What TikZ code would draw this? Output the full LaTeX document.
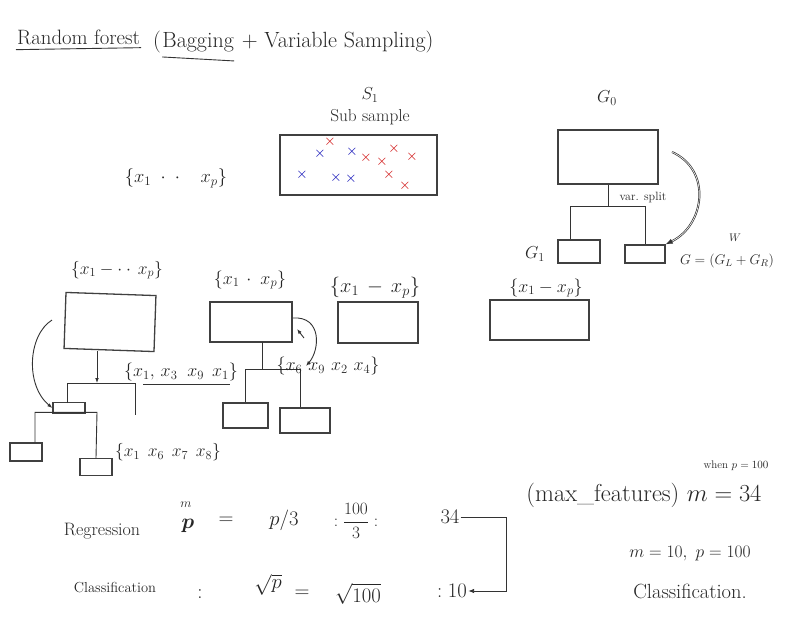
\RequirePackage{fix-cm}
\documentclass[tikz,border=0pt]{standalone}
\usepackage{amsmath}
\usepackage{fontspec}
\usetikzlibrary{arrows.meta}
\begin{document}
\begin{tikzpicture}[x=1pt,y=-1pt,
  hw/.style={font=\fontsize{#1}{#1}\selectfont, inner sep=1pt, text=black!85},
  hw/.default=17.3,
  sm/.style={font=\fontsize{#1}{#1}\selectfont, inner sep=1pt, text=black!85},
  sm/.default=11,
  box/.style={draw=black!75, line width=1.3pt, inner sep=0pt},
  wire/.style={draw=black!80, line width=0.9pt},
  bx/.style={font=\fontsize{15}{15}\selectfont\bfseries, text=blue!70!black, inner sep=0pt},
  rx/.style={font=\fontsize{15}{15}\selectfont\bfseries, text=red!80!black, inner sep=0pt}]
\useasboundingbox (0,0) rectangle (785,642);

% title
\node[hw=20.8, anchor=west] (t1) at (16,37) {Random forest};
\node[hw=22, anchor=west] (t2) at (152,42) {(};
\node[hw=22, anchor=west, inner sep=0pt] (t3) at (t2.east) {Bagging};
\node[hw=22, anchor=west] (t4) at (t3.east) {\ + Variable Sampling)};
\draw[wire] ([yshift=-4pt]t1.south west) -- ([yshift=-2pt]t1.south east);
\draw[wire] ([yshift=-5pt]t3.south west) -- ([yshift=-9pt]t3.south east);

% S1 sub sample
\node[hw] (s1lab) at (370,95) {$S_1$};
\node[hw] (sub) at (370,117) {Sub sample};
\node[box, minimum width=157, minimum height=60] (S1) at (358.5,165) {};
\node[rx] (c1) at (330,142) {$\times$};
\node[bx] (c2) at (320,154) {$\times$};
\node[bx] (c3) at (352,152) {$\times$};
\node[rx] (c4) at (366,158) {$\times$};
\node[rx] (c5) at (394,149) {$\times$};
\node[rx] (c6) at (412,157) {$\times$};
\node[rx] (c7) at (382,162) {$\times$};
\node[bx] (c8) at (302,175) {$\times$};
\node[bx] (c9) at (336,178) {$\times$};
\node[bx] (c10) at (351,179) {$\times$};
\node[rx] (c11) at (389,175) {$\times$};
\node[rx] (c12) at (405,186) {$\times$};

\node[hw=18.5] (xs0) at (176,178) {$\{x_1\;\cdot\;\cdot\;\;\;\; x_p\}$};

% G0 tree
\node[hw] (g0lab) at (607,98) {$G_0$};
\node[box, minimum width=100, minimum height=54] (G0) at (608,157) {};
\node[box, minimum width=42, minimum height=23] (GL) at (579,251.5) {};
\node[box, minimum width=40, minimum height=18] (GR) at (645,254) {};
\coordinate (gj) at (608,207);
\draw[wire] (G0.south) -- (gj);
\draw[wire] ([xshift=-9pt]GL.north) -- ++(0,-33) -| (GR.north);
\node[sm=12] (vs) at (643,197) {var. split};
\draw[draw=black!80, double, line width=0.7pt, -{Latex[length=7pt]}]
  (672,152) .. controls (712,170) and (705,225) .. (GR.north east);
\node[hw] (g1) at (535,254) {$G_1$};
\node[hw=14] (gf) at (727,261) {$G=(G_L+G_R)$};
\node[sm] (gw) at (735,238) {$W$};

% left tree
\node[hw=17.5] (xa) at (117,270) {$\{x_1 - \cdot\cdot\, x_p\}$};
\node[box, minimum width=90, minimum height=56, rotate=-2] (B1) at (110,322) {};
\coordinate (j1) at (97,383);
\draw[wire, -{Latex[length=5pt]}] (97,351) -- (j1);
\node[box, minimum width=32, minimum height=11] (L1) at (69,408) {};
\draw[wire] (67,403) -- (67,383) -- (135,383) -- (135,415);
\draw[wire, -{Latex[length=5pt]}] (52,320) .. controls (28,335) and (25,385) .. (L1.west);
\node[box, minimum width=32, minimum height=18] (L2) at (26,452) {};
\node[box, minimum width=32, minimum height=17] (L3) at (96,467) {};
\draw[wire] (L2.north) ++(9,0) -- ++(0,-30) -- ++(62,0) -- (L3.north);
\node[hw=17.5] (xf) at (168,452) {$\{x_1\;\, x_6\;\, x_7\;\, x_8\}$};
\node[hw=18] (xb) at (181,372) {$\{x_1,\, x_3\;\; x_9\;\, x_1\}$};
\coordinate (lb1) at (143,384);
\coordinate (lb2) at (230,384);
\draw[wire] (lb1) -- (lb2);

% middle tree
\node[hw=18] (xc) at (250,280) {$\{x_1\, \cdot\; x_p\}$};
\node[box, minimum width=82, minimum height=40] (B2) at (251,322) {};
\node[box, minimum width=45, minimum height=25] (M1) at (245.5,415.5) {};
\node[box, minimum width=50, minimum height=25] (M2) at (305,420.5) {};
\draw[wire] (262,342) -- (262,370);
\draw[wire] (M1.north) -- ++(0,-33) -| ([xshift=-5pt]M2.north);
\draw[wire, -{Latex[length=5pt]}] (293,318) .. controls (322,316) and (320,350) .. (306,366);
\draw[wire, -{Latex[length=5pt]}] (304,338) -- (297,329);
\node[hw=18] (xg) at (328,366) {$\{x_6\,\, x_9\,\, x_2\,\, x_4\}$};

% boxes 3 and 4
\node[hw=20.5] (xd) at (375,288) {$\{x_1\, -\, x_p\}$};
\node[box, minimum width=80, minimum height=41] (B3) at (378,322.5) {};
\node[hw=18] (xe) at (546,288) {$\{x_1 - x_p\}$};
\node[box, minimum width=99, minimum height=40] (B4) at (539.5,320) {};

% formulas
\node[hw=18] (reg) at (102,531) {Regression};
\node[sm=13] (mm) at (186,505) {$m$};
\node[hw=21] (pp) at (188,526) {$\boldsymbol{p}$};
\node[hw=20.7] (eq1) at (226,521) {$=$};
\node[hw=20.7] (p3) at (284,520) {$p/3$};
\node[hw=17.3] (h3) at (356,521) {$:\dfrac{100}{3}:$};
\node[hw=20.7] (r34) at (450,517) {$34$};
\node[hw=14.5] (cls) at (115,588) {Classification};
\node[hw=20.7] (eq2) at (200,594) {$:$};
\node[hw=20.7] (sp) at (268,585) {$\sqrt{p}$};
\node[hw=20.7] (eq3) at (302,594) {$=$};
\node[hw=20.7] (s100) at (358,594) {$\sqrt{100}$};
\node[hw=20.7] (r10) at (452,591) {$:10$};
\coordinate (br) at (506,517);
\draw[wire, -{Latex[length=6pt]}] (r34.east) -- (br) |- (r10.east);

\node[hw=24.5] (mf) at (644,495) {(max\_features) $m=34$};
\node[sm] (wp) at (736,466) {when $p=100$};
\node[hw=17.5] (m10) at (690,554) {$m=10,\ p=100$};
\node[hw=20.5] (cl2) at (690,591) {Classification.};
\end{tikzpicture}
\end{document}
